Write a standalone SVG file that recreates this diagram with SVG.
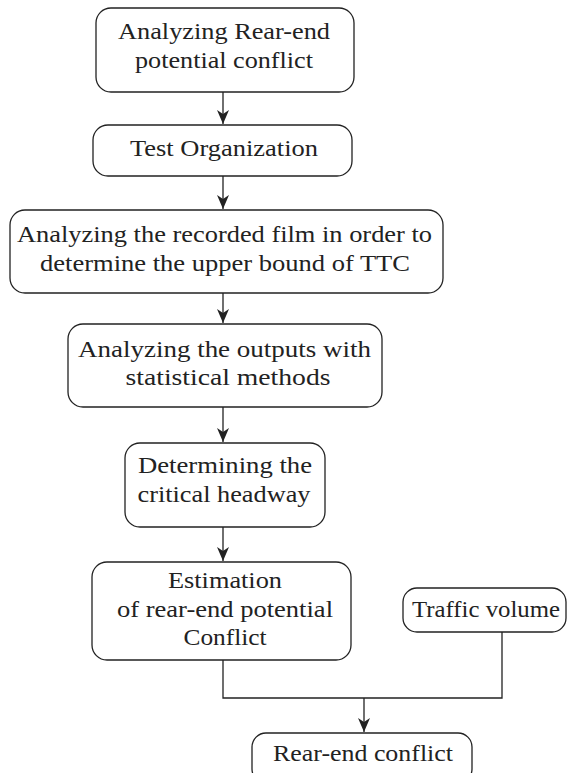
<svg xmlns="http://www.w3.org/2000/svg" width="567" height="773" viewBox="0 0 567 773">
<defs>
<style>
.box{fill:#fff;stroke:#222;stroke-width:1.3}
.t{font-family:'Liberation Serif','Times New Roman',serif;font-size:24px;fill:#222;text-anchor:middle}
.c{fill:none;stroke:#222;stroke-width:1.3}
.a{fill:#222}
</style>
</defs>
<rect width="567" height="773" fill="#fff"/>
<g id="connectors">
<line class="c" x1="223" y1="92" x2="223" y2="124"/>
<line class="c" x1="223" y1="176" x2="223" y2="209"/>
<line class="c" x1="223" y1="293" x2="223" y2="323"/>
<line class="c" x1="223" y1="407" x2="223" y2="442"/>
<line class="c" x1="223" y1="527" x2="223" y2="561"/>
<polyline class="c" points="223,660 223,698 502,698 502,632"/>
<line class="c" x1="364" y1="698" x2="364" y2="732"/>
<path class="a" d="M217,110 L223,124 L229,110 L223,114 Z"/>
<path class="a" d="M217,195 L223,209 L229,195 L223,199 Z"/>
<path class="a" d="M217,309 L223,323 L229,309 L223,313 Z"/>
<path class="a" d="M217,428 L223,442 L229,428 L223,432 Z"/>
<path class="a" d="M217,547 L223,561 L229,547 L223,551 Z"/>
<path class="a" d="M358,718 L364,732 L370,718 L364,722 Z"/>
</g>
<g id="n1">
<rect class="box" x="96" y="8" width="258" height="84" rx="15"/>
<text class="t" x="224" y="39" textLength="212" lengthAdjust="spacingAndGlyphs">Analyzing Rear-end</text>
<text class="t" x="224" y="68" textLength="178" lengthAdjust="spacingAndGlyphs">potential conflict</text>
</g>
<g id="n2">
<rect class="box" x="93" y="125" width="259" height="51" rx="15"/>
<text class="t" x="224" y="156" textLength="188" lengthAdjust="spacingAndGlyphs">Test Organization</text>
</g>
<g id="n3">
<rect class="box" x="10" y="210" width="433" height="83" rx="15"/>
<text class="t" x="224.5" y="242" textLength="415" lengthAdjust="spacingAndGlyphs">Analyzing the recorded film in order to</text>
<text class="t" x="225" y="271" textLength="370" lengthAdjust="spacingAndGlyphs">determine the upper bound of TTC</text>
</g>
<g id="n4">
<rect class="box" x="68" y="324" width="314" height="83" rx="15"/>
<text class="t" x="224.5" y="357" textLength="293" lengthAdjust="spacingAndGlyphs">Analyzing the outputs with</text>
<text class="t" x="228" y="385" textLength="205" lengthAdjust="spacingAndGlyphs">statistical methods</text>
</g>
<g id="n5">
<rect class="box" x="125" y="443" width="200" height="84" rx="15"/>
<text class="t" x="225" y="473" textLength="174" lengthAdjust="spacingAndGlyphs">Determining the</text>
<text class="t" x="224" y="502" textLength="173" lengthAdjust="spacingAndGlyphs">critical headway</text>
</g>
<g id="n6">
<rect class="box" x="92" y="562" width="259" height="98" rx="15"/>
<text class="t" x="225" y="588" textLength="114" lengthAdjust="spacingAndGlyphs">Estimation</text>
<text class="t" x="225" y="617" textLength="216" lengthAdjust="spacingAndGlyphs">of rear-end potential</text>
<text class="t" x="225" y="645" textLength="83" lengthAdjust="spacingAndGlyphs">Conflict</text>
</g>
<g id="n7">
<rect class="box" x="403" y="588" width="163" height="44" rx="14"/>
<text class="t" x="486" y="617" textLength="148" lengthAdjust="spacingAndGlyphs">Traffic volume</text>
</g>
<g id="n8">
<rect class="box" x="252" y="733" width="220" height="50" rx="14"/>
<text class="t" x="363" y="761" textLength="180" lengthAdjust="spacingAndGlyphs">Rear-end conflict</text>
</g>
</svg>
